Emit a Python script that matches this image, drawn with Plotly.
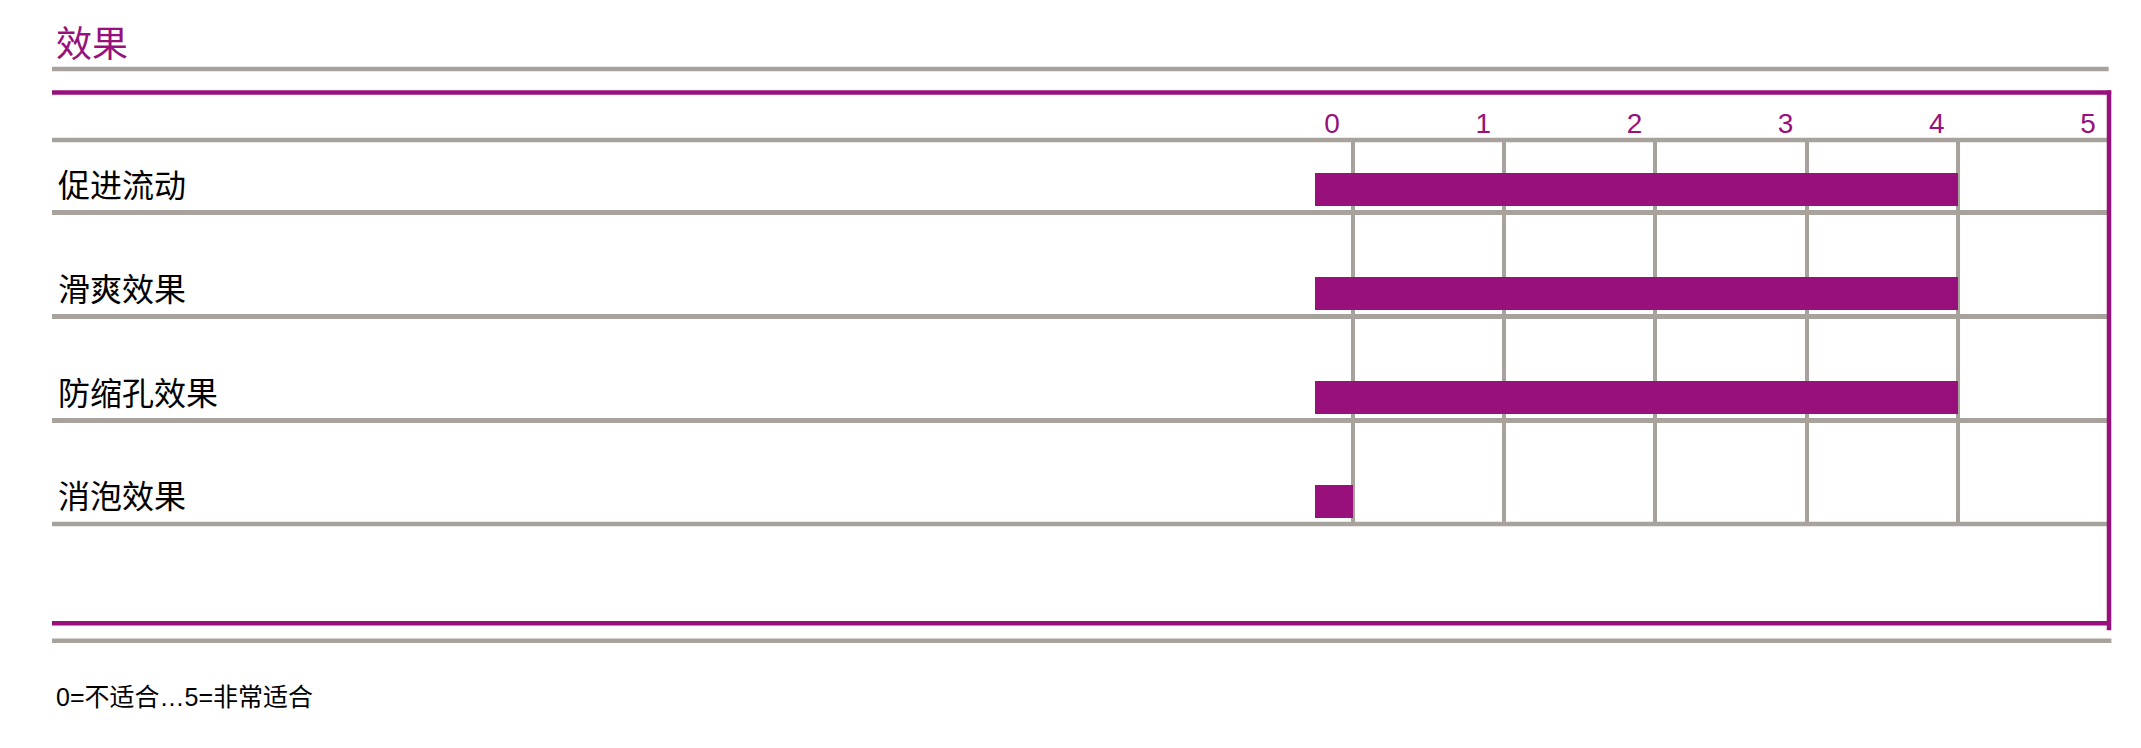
import plotly.graph_objects as go

categories = ['促进流动', '滑爽效果', '防缩孔效果', '消泡效果']
scores = [4, 4, 4, 0]
score_ticks = [0, 1, 2, 3, 4, 5]
score_labels = ['0', '1', '2', '3', '4', '5']
title_text = '效果'
note_text = '0=不适合…5=非常适合'

PURPLE = '#97107B'
GRAY = '#A8A29D'
BAR_BASE = -0.25

# the page body has an 8px margin, so the figure sits at (8, 8)
OFF = 8
W, H = 2141 - OFF, 748 - OFF
L, T = 52 - OFF, 140 - OFF
R = W - (2109.3 - OFF)
B = H - (524.5 - OFF)


def px(x):
    # page pixel -> paper x
    return (x - OFF - L) / (W - L - R)


def py(y):
    # page pixel -> paper y
    return (H - B - (y - OFF)) / (H - T - B)


positions = list(range(len(categories)))

fig = go.Figure(
    go.Bar(
        y=positions,
        x=[s - BAR_BASE for s in scores],
        base=BAR_BASE,
        orientation='h',
        width=0.318,
        marker={'color': PURPLE, 'line': {'width': 0}},
        hoverinfo='skip',
    )
)

fig.update_xaxes(
    range=[-8.606, 5],
    side='top',
    tickmode='array',
    tickvals=score_ticks,
    ticktext=score_labels,
    ticks='',
    showgrid=True,
    gridcolor=GRAY,
    gridwidth=3.5,
    zeroline=False,
    showline=False,
    tickfont={'family': 'Liberation Sans, Arial', 'size': 28, 'color': PURPLE},
    ticklabelshift=-21,
    ticklabelstandoff=0,
    automargin=False,
    fixedrange=True,
)

fig.update_yaxes(
    range=[3.219, -0.481],
    tickmode='array',
    tickvals=positions,
    ticktext=categories,
    ticklabelposition='inside',
    ticklabelstandoff=3,
    ticklabelshift=4,
    ticks='',
    showgrid=False,
    zeroline=False,
    showline=False,
    tickfont={'family': 'Noto Sans CJK SC', 'size': 32, 'color': '#000000'},
    minor={
        'tickmode': 'array',
        'tickvals': [p + 0.2185 for p in positions[:-1]],
        'showgrid': True,
        'gridcolor': GRAY,
        'gridwidth': 4.5,
        'ticks': '',
    },
    automargin=False,
    fixedrange=True,
)

# frame lines around the table
frame = [
    (52, 69, 2109, 69, GRAY),
    (52, 92.5, 2111.5, 92.5, PURPLE),
    (52, 140, 2109.3, 140, GRAY),
    (52, 524.5, 2109.3, 524.5, GRAY),
    (52, 624, 2109, 624, PURPLE),
    (52, 641.3, 2111.7, 641.3, GRAY),
    (2109.3, 90.5, 2109.3, 631, PURPLE),
]
shapes = []
for x0, y0, x1, y1, c in frame:
    shapes.append(dict(
        type='line', xref='paper', yref='paper',
        x0=px(x0), y0=py(y0), x1=px(x1), y1=py(y1),
        line={'color': c, 'width': 4.5}, layer='above',
    ))

fig.update_layout(
    template='none',
    width=W,
    height=H,
    margin={'l': L, 'r': R, 't': T, 'b': B, 'pad': 0, 'autoexpand': False},
    paper_bgcolor='white',
    plot_bgcolor='white',
    showlegend=False,
    bargap=0,
    shapes=shapes,
    annotations=[
        dict(
            text=title_text, xref='paper', yref='paper',
            x=px(54), y=py(40.5), xanchor='left', yanchor='middle',
            showarrow=False,
            font={'family': 'Noto Sans CJK SC', 'size': 36, 'color': PURPLE},
        ),
        dict(
            text=note_text, xref='paper', yref='paper',
            x=px(54), y=py(698), xanchor='left', yanchor='middle',
            showarrow=False,
            font={'family': 'Liberation Sans, Noto Sans CJK SC', 'size': 25, 'color': '#000000'},
        ),
    ],
)

fig.write_html('out.html')
